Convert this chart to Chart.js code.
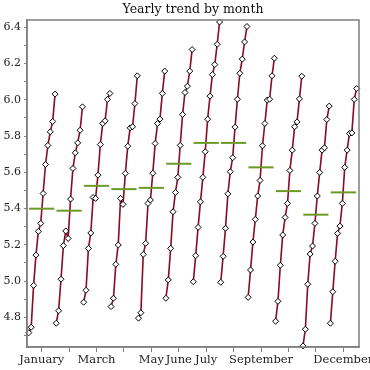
<!DOCTYPE html>
<html>
<head>
<meta charset="utf-8">
<script src="https://cdn.jsdelivr.net/npm/chart.js@4.4.1/dist/chart.umd.min.js"></script>
<style>
  html, body { margin: 0; padding: 0; background: #fff; }
</style>
</head>
<body>
<canvas id="monthChart" width="370" height="370"></canvas>
<script>
// months and tick labels (some labels are hidden in the original)
const months = ['January', 'February', 'March', 'April', 'May', 'June', 'July',
  'August', 'September', 'October', 'November', 'December'];
const xTickLabels = ['January', '', 'March', '', 'May', 'June', 'July', '', 'September', '', '', 'December'];

// one value per year, oldest first
const jan = [4.715, 4.745, 4.976, 5.143, 5.274, 5.318, 5.483, 5.643, 5.748, 5.823, 5.880, 6.031];
const feb = [4.767, 4.836, 5.010, 5.195, 5.276, 5.235, 5.452, 5.621, 5.707, 5.762, 5.832, 5.961];
const mar = [4.883, 4.949, 5.180, 5.265, 5.461, 5.456, 5.584, 5.753, 5.869, 5.884, 6.002, 6.035];
const apr = [4.859, 4.905, 5.092, 5.199, 5.456, 5.423, 5.594, 5.744, 5.845, 5.851, 5.979, 6.132];
const may = [4.795, 4.825, 5.147, 5.208, 5.428, 5.447, 5.595, 5.759, 5.869, 5.893, 6.035, 6.158];
const jun = [4.905, 5.006, 5.180, 5.382, 5.489, 5.572, 5.748, 5.919, 6.040, 6.075, 6.158, 6.277];
const jul = [4.996, 5.140, 5.296, 5.437, 5.572, 5.713, 5.893, 6.020, 6.139, 6.194, 6.306, 6.429];
const aug = [4.993, 5.136, 5.291, 5.481, 5.603, 5.680, 5.849, 6.003, 6.146, 6.224, 6.319, 6.404];
const sep = [4.910, 5.061, 5.215, 5.340, 5.469, 5.555, 5.746, 5.869, 5.998, 6.003, 6.132, 6.229];
const oct = [4.778, 4.888, 5.087, 5.254, 5.351, 5.428, 5.610, 5.722, 5.851, 5.878, 6.005, 6.130];
const nov = [4.642, 4.734, 4.982, 5.149, 5.193, 5.318, 5.469, 5.599, 5.722, 5.735, 5.891, 5.965];
const dec = [4.767, 4.941, 5.109, 5.263, 5.303, 5.428, 5.627, 5.722, 5.814, 5.817, 6.002, 6.062];

// monthly means (green bars)
const monthMeans = [5.399, 5.388, 5.525, 5.507, 5.514, 5.647, 5.762, 5.762, 5.627, 5.496, 5.366, 5.489];

const yMajorTicks = [4.8, 5.0, 5.2, 5.4, 5.6, 5.8, 6.0, 6.2, 6.4];
const yMinorTicks = [4.7, 4.9, 5.1, 5.3, 5.5, 5.7, 5.9, 6.1, 6.3];

const series = [jan, feb, mar, apr, may, jun, jul, aug, sep, oct, nov, dec];

// years are spread across each month slot
const spreadStart = -0.47;
const spreadStep = 0.087;
const meanHalfWidth = 0.46;

const axisGrey = '#7f7f7f';
Chart.defaults.font.family = "'DejaVu Serif', serif";

const datasets = [];
series.forEach((vals, i) => {
  const m = i + 1;
  datasets.push({
    label: months[i],
    data: vals.map((v, j) => ({ x: m + spreadStart + j * spreadStep, y: v })),
    borderColor: '#8b0a26',
    borderWidth: 1.6,
    pointStyle: 'rectRot',
    pointRadius: 3,
    pointBorderWidth: 1,
    pointBorderColor: '#000',
    pointBackgroundColor: '#fff',
    clip: false,
    order: 2
  });
});
monthMeans.forEach((v, i) => {
  const m = i + 1;
  datasets.push({
    label: months[i] + ' mean',
    data: [{ x: m - meanHalfWidth, y: v }, { x: m + meanHalfWidth, y: v }],
    borderColor: '#6b9a25',
    borderWidth: 2,
    pointRadius: 0,
    order: 1
  });
});

const frame = {
  id: 'frame',
  afterDatasetsDraw(chart) {
    const { ctx, chartArea: a } = chart;
    ctx.save();
    ctx.strokeStyle = axisGrey;
    ctx.lineWidth = 1.5;
    ctx.strokeRect(a.left, a.top, a.right - a.left, a.bottom - a.top);
    ctx.restore();
  }
};

new Chart(document.getElementById('monthChart').getContext('2d'), {
  type: 'line',
  data: { datasets: datasets },
  plugins: [frame],
  options: {
    responsive: false,
    animation: false,
    layout: { padding: { right: 11, top: 0, left: 0, bottom: 0 } },
    plugins: {
      legend: { display: false },
      tooltip: { enabled: false },
      title: {
        display: true,
        fullSize: false,
        text: 'Yearly trend by month',
        color: '#111',
        font: { size: 12.5, weight: 'normal' },
        padding: { top: 2, bottom: 3 }
      }
    },
    scales: {
      x: {
        type: 'linear',
        min: 0.464,
        max: 12.573,
        afterBuildTicks: (scale) => {
          scale.ticks = months.map((_, i) => ({ value: i + 1 }));
        },
        afterFit: (scale) => {
          scale.height = 23;
          scale.paddingLeft = 0;
          scale.paddingRight = 0;
        },
        ticks: {
          autoSkip: false,
          maxRotation: 0,
          padding: 1,
          color: '#222',
          font: { size: 11.5 },
          callback: (v, i) => xTickLabels[i]
        },
        grid: { drawOnChartArea: false, tickLength: 5, color: axisGrey },
        border: { color: axisGrey, width: 1.5 }
      },
      y: {
        min: 4.636,
        max: 6.44,
        afterBuildTicks: (scale) => {
          scale.ticks = yMinorTicks.concat(yMajorTicks).sort((a, b) => a - b).map(v => ({ value: v }));
        },
        afterFit: (scale) => {
          scale.width = 27;
          scale.paddingTop = 0;
          scale.paddingBottom = 0;
        },
        ticks: {
          padding: 3,
          color: '#222',
          font: { size: 11 },
          callback: (v) => yMajorTicks.some(t => Math.abs(t - v) < 1e-6) ? v.toFixed(1) : ''
        },
        grid: { drawOnChartArea: false, tickLength: 3, color: axisGrey },
        border: { color: axisGrey, width: 1.5 }
      }
    }
  }
});
</script>
</body>
</html>
